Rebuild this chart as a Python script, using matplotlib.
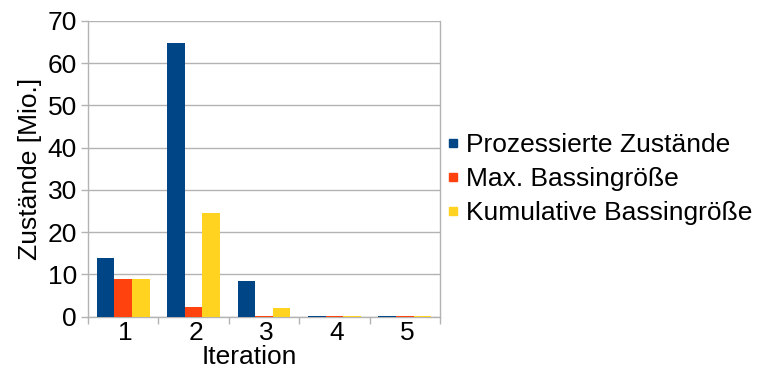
import matplotlib
matplotlib.use("Agg")
import matplotlib.pyplot as plt
import matplotlib.transforms as mtransforms
from matplotlib.lines import Line2D
import numpy as np

plt.rcParams['font.family'] = ['Liberation Sans', 'DejaVu Sans']

iterations = ["1", "2", "3", "4", "5"]
prozessiert = [13.8, 64.8, 8.35, 0.1, 0.1]
max_bassin = [8.8, 2.2, 0.15, 0.1, 0.1]
kumulativ = [8.8, 24.4, 2.0, 0.1, 0.1]
series_names = ["Prozessierte Zustände", "Max. Bassingröße", "Kumulative Bassingröße"]
colors = ["#004586", "#ff420e", "#ffd320"]

fs = 19

fig = plt.figure(figsize=(7.58, 3.69), dpi=100)
ax = fig.add_axes([88 / 758, 1 - 316.5 / 369, (440 - 88) / 758, (316.5 - 21) / 369])

x = np.arange(1, len(iterations) + 1)
w = 0.25
for i, (vals, c) in enumerate(zip([prozessiert, max_bassin, kumulativ], colors)):
    ax.bar(x + (i - 1) * w, vals, width=w, color=c, zorder=3, linewidth=0)

grid_c = "#b3b3b3"
ax.set_xlim(0.5, 5.5)
ax.set_ylim(0, 70)
ax.set_yticks(np.arange(0, 71, 10))
ax.yaxis.grid(True, color=grid_c, linewidth=1, zorder=0)
ax.set_xticks(x)
ax.set_xticklabels(iterations)
ax.set_xticks(np.arange(0.5, 5.6, 1), minor=True)
ax.tick_params(axis='x', which='major', length=0, labelsize=fs, pad=3.5)
ax.tick_params(axis='x', which='minor', length=5, color=grid_c, width=1)
ax.tick_params(axis='y', which='major', length=5, color=grid_c, width=1, labelsize=fs, pad=3)

# nudge category labels slightly to the right
shift = mtransforms.ScaledTranslation(2.5 / 100, 0, fig.dpi_scale_trans)
for lbl in ax.get_xticklabels():
    lbl.set_transform(lbl.get_transform() + shift)

for s in ["left", "bottom", "right"]:
    ax.spines[s].set_color(grid_c)
    ax.spines[s].set_linewidth(1)
ax.spines["top"].set_visible(False)

ax.set_xlabel("Iteration", fontsize=fs)
ax.xaxis.set_label_coords(0.459, -0.095)
ax.set_ylabel("Zustände [Mio.]", fontsize=fs, labelpad=4)

handles = [Line2D([], [], marker='s', linestyle='none', color=c, markersize=5.5) for c in colors]
fig.legend(handles, series_names, loc='center left', bbox_to_anchor=(440 / 758, 1 - 179 / 369),
           frameon=False, fontsize=fs, handlelength=0.4, handletextpad=0.3,
           labelspacing=0.38, borderaxespad=0, borderpad=0.3)

fig.savefig("out.png", dpi=100)
